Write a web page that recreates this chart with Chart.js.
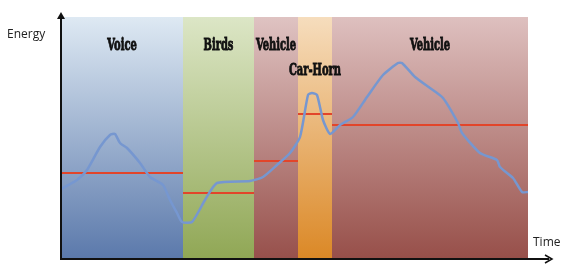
<!DOCTYPE html>
<html>
<head>
<meta charset="utf-8">
<script src="https://cdn.jsdelivr.net/npm/chart.js@4/dist/chart.umd.min.js"></script>
<style>
  html, body { margin: 0; padding: 0; background: #fff; }
  #wrap { width: 563px; height: 264px; }
</style>
</head>
<body>
<div id="wrap"><canvas id="myChart" width="563" height="264"></canvas></div>
<script>
// sound classes along time axis
const regionNames = ["Voice", "Birds", "Vehicle", "Car-Horn", "Vehicle"];
const regionEdges = [0, 122, 193, 237, 271, 467];
const regionTop = 242;
const regionTopColors = ["#dee9f3", "#dce6c6", "#dfc3c2", "#f6ddbd", "#dec0bf"];
const regionBottomColors = ["#5b79ab", "#90a755", "#97504b", "#db8826", "#974f49"];

// threshold per region
const thresholds = [86, 66, 98, 145, 134];

// energy curve (time, energy)
const curveTime = [0, 2, 16, 26, 39, 49, 54, 59, 66, 79, 89, 102, 109, 116, 121, 131, 144, 156, 189, 202, 216, 229, 239, 247, 251, 256, 262, 269, 276, 279, 292, 306, 322, 337, 341, 354, 369, 382, 397, 401, 419, 436, 439, 452, 461, 467];
const curveEnergy = [69, 71, 79, 89, 112, 124, 125, 116, 111, 96, 82, 74, 59, 46, 37, 37, 59, 76, 78, 82, 94, 106, 122, 164, 166, 164, 139, 125, 131, 134, 142, 162, 184, 196, 196, 182, 171, 161, 136, 126, 106, 99, 92, 81, 67, 67];

const xMax = 491;
const yMax = 247;

const labelFont = "bold 16px 'DejaVu Serif', serif";
const squeeze = 0.62;

const regionPlugin = {
  id: "regions",
  beforeDatasetsDraw(chart) {
    const ctx = chart.ctx;
    const xs = chart.scales.x, ys = chart.scales.y;
    const yT = ys.getPixelForValue(regionTop), yB = ys.getPixelForValue(0);
    for (let i = 0; i < regionNames.length; i++) {
      const x0 = xs.getPixelForValue(regionEdges[i]);
      const x1 = xs.getPixelForValue(regionEdges[i + 1]);
      const g = ctx.createLinearGradient(0, yT, 0, yB);
      g.addColorStop(0, regionTopColors[i]);
      g.addColorStop(1, regionBottomColors[i]);
      ctx.fillStyle = g;
      ctx.fillRect(x0, yT, x1 - x0, yB - yT);
    }
  },
  afterDraw(chart) {
    const ctx = chart.ctx;
    const xs = chart.scales.x, ys = chart.scales.y;
    const x0 = xs.getPixelForValue(0), x1 = xs.getPixelForValue(xMax);
    const y0 = ys.getPixelForValue(0), y1 = ys.getPixelForValue(yMax);
    ctx.save();
    // axes
    ctx.strokeStyle = "#111";
    ctx.fillStyle = "#111";
    ctx.lineWidth = 2;
    ctx.beginPath();
    ctx.moveTo(x0, y0);
    ctx.lineTo(x0, y1 + 3);
    ctx.moveTo(x0 - 1, y0);
    ctx.lineTo(x1 - 3, y0);
    ctx.stroke();
    // arrow heads
    ctx.beginPath();
    ctx.moveTo(x0, y1);
    ctx.lineTo(x0 - 4, y1 + 7);
    ctx.lineTo(x0 + 4, y1 + 7);
    ctx.closePath();
    ctx.fill();
    ctx.lineWidth = 1.5;
    ctx.beginPath();
    ctx.moveTo(x1 - 7, y0 - 4);
    ctx.lineTo(x1, y0);
    ctx.lineTo(x1 - 7, y0 + 4);
    ctx.stroke();

    // axis titles
    ctx.font = "12px 'Open Sans', 'DejaVu Sans', sans-serif";
    ctx.fillStyle = "#222";
    ctx.textBaseline = "middle";
    ctx.textAlign = "left";
    ctx.fillText("Energy", 7, 35);
    ctx.fillText("Time", 533, 243);

    // region labels (condensed, heavy)
    ctx.font = labelFont;
    ctx.fillStyle = "#111";
    ctx.strokeStyle = "#111";
    ctx.lineWidth = 0.9;
    ctx.textAlign = "center";
    const yLab = ys.getPixelForValue(regionTop) + 29;
    for (let i = 0; i < regionNames.length; i++) {
      const a = xs.getPixelForValue(regionEdges[i]);
      const b = xs.getPixelForValue(regionEdges[i + 1]);
      const w = ctx.measureText(regionNames[i]).width * squeeze;
      // text that does not fit its band drops one line
      const yy = w > (b - a) + 2 ? yLab + 25 : yLab;
      ctx.save();
      ctx.translate((a + b) / 2, yy);
      ctx.scale(squeeze, 1);
      ctx.fillText(regionNames[i], 0, 0);
      ctx.strokeText(regionNames[i], 0, 0);
      ctx.restore();
    }
    ctx.restore();
  }
};

function buildDatasets() {
  const sets = [];
  for (let i = 0; i < thresholds.length; i++) {
    sets.push({
      data: [
        { x: regionEdges[i], y: thresholds[i] },
        { x: regionEdges[i + 1], y: thresholds[i] }
      ],
      showLine: true,
      borderColor: "#e2452a",
      borderWidth: 2,
      pointRadius: 0,
      order: 2
    });
  }
  sets.push({
    data: curveTime.map((t, i) => ({ x: t, y: curveEnergy[i] })),
    showLine: true,
    borderColor: "#7697d0",
    borderWidth: 2.5,
    pointRadius: 0,
    tension: 0.2,
    order: 1
  });
  return sets;
}

const config = {
  type: "scatter",
  data: { datasets: buildDatasets() },
  options: {
    responsive: false,
    animation: false,
    layout: { padding: { left: 61, right: 11, top: 12, bottom: 5 } },
    plugins: { legend: { display: false }, tooltip: { enabled: false } },
    scales: {
      x: { type: "linear", min: 0, max: xMax, display: false },
      y: { type: "linear", min: 0, max: yMax, display: false }
    }
  },
  plugins: [regionPlugin]
};

let ctx = document.getElementById("myChart").getContext("2d");
new Chart(ctx, config);
</script>
</body>
</html>
